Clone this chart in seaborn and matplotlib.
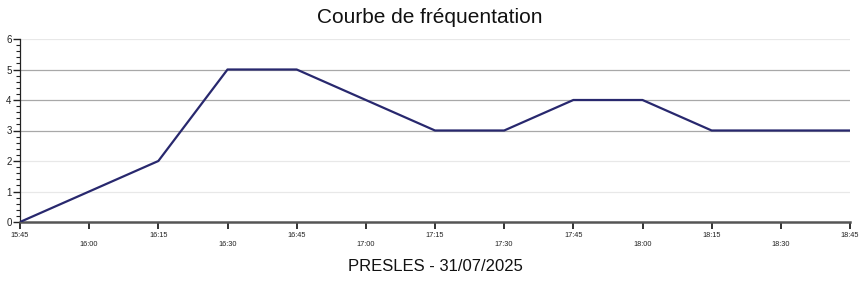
import matplotlib
matplotlib.use("Agg")
import matplotlib.pyplot as plt
import seaborn as sns
import pandas as pd
from matplotlib.ticker import MultipleLocator

times = ["15:45", "16:00", "16:15", "16:30", "16:45", "17:00", "17:15",
         "17:30", "17:45", "18:00", "18:15", "18:30", "18:45"]
visitors = [0, 1, 2, 5, 5, 4, 3, 3, 4, 4, 3, 3, 3]
title = "Courbe de fréquentation"
xlabel = "PRESLES - 31/07/2025"

def to_min(t):
    h, m = t.split(":")
    return int(h) * 60 + int(m)

df = pd.DataFrame({"t": [to_min(t) for t in times], "v": visitors})

sns.set_theme(style="white")
plt.rcParams["font.family"] = ["Liberation Sans", "DejaVu Sans"]

fig = plt.figure(figsize=(8.6, 2.84), dpi=100)
ax = fig.add_axes([20/860, 1-222/284, 830/860, 183/284])

# gridlines
for y in range(1, 7):
    col = "#a8a8a8" if y in (3, 4, 5) else "#e8e8e8"
    ax.axhline(y, color=col, lw=0.9, zorder=0)

sns.lineplot(data=df, x="t", y="v", ax=ax, color="#28286e", lw=1.6, zorder=3)

ax.set_xlim(df["t"].min(), df["t"].max())
ax.set_ylim(0, 6)
ax.set_xticks(df["t"])
ax.set_xticklabels([t if i % 2 == 0 else "\n" + t for i, t in enumerate(times)],
                   fontsize=5.3, color="#333333", linespacing=1.4)
ax.yaxis.set_major_locator(MultipleLocator(1))
ax.yaxis.set_minor_locator(MultipleLocator(0.2))
ax.tick_params(axis="y", which="major", length=5, width=1.0, labelsize=7,
               pad=1, colors="#222222", left=True)
ax.tick_params(axis="y", which="minor", length=3, width=0.8, color="#222222", left=True)
ax.tick_params(axis="x", which="major", length=5, width=1.3, pad=2,
               colors="#222222", bottom=True)
for lbl in ax.get_xticklabels():
    lbl.set_verticalalignment("top")

for s in ("top", "right"):
    ax.spines[s].set_visible(False)
ax.spines["left"].set_color("#222222")
ax.spines["left"].set_linewidth(0.9)
ax.spines["bottom"].set_color("#555555")
ax.spines["bottom"].set_linewidth(1.8)

ax.set_ylabel("")
ax.set_xlabel(xlabel, fontsize=12, color="#111111", labelpad=8)
fig.text(0.5, 0.94, title, ha="center", va="center", fontsize=15, color="#111111")

fig.savefig("out.png", dpi=100)
